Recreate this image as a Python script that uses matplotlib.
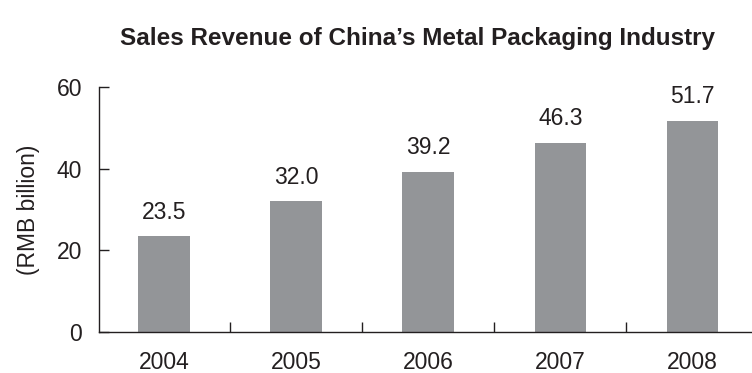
import numpy as np
import matplotlib
matplotlib.use("Agg")
from matplotlib import pyplot as plt
from matplotlib.ticker import FixedLocator, NullFormatter

plt.rcParams['font.family'] = ['Liberation Sans', 'DejaVu Sans']

years = ['2004', '2005', '2006', '2007', '2008']
revenue = [23.5, 32.0, 39.2, 46.3, 51.7]
yticks = [0, 20, 40, 60]

fig = plt.figure(figsize=(7.52, 3.73), dpi=100)
ax = fig.add_axes([99 / 752, 41 / 373, 653 / 752, 245 / 373])

x = np.arange(len(years))
ax.bar(x, revenue, width=0.39, color='#939598', zorder=2)

for xi, v in zip(x, revenue):
    ax.annotate(f'{v:.1f}', xy=(xi, v), xytext=(0, 9), textcoords='offset points',
                ha='center', va='bottom', fontsize=16.5, color='#231f20')

ax.set_xlim(-0.49, 4.45)
ax.set_ylim(0, 60)

# year labels sit on minor ticks, separators on major ticks
ax.xaxis.set_major_locator(FixedLocator(x[:-1] + 0.5))
ax.xaxis.set_major_formatter(NullFormatter())
ax.xaxis.set_minor_locator(FixedLocator(x))
ax.set_xticklabels(years, minor=True)
ax.tick_params(axis='x', which='major', direction='in', length=7, width=1, color='#231f20')
ax.tick_params(axis='x', which='minor', length=0, pad=14, labelsize=16.5, labelcolor='#231f20')

ax.set_yticks(yticks)
ax.tick_params(axis='y', direction='in', length=7, width=1, pad=12, labelsize=16.5,
               color='#231f20', labelcolor='#231f20')
ax.set_ylabel('(RMB billion)', fontsize=16.5, color='#231f20', labelpad=12)

for side in ['top', 'right']:
    ax.spines[side].set_visible(False)
for side in ['left', 'bottom']:
    ax.spines[side].set_color('#231f20')
    ax.spines[side].set_linewidth(1)

fig.text(0.555, 0.898, 'Sales Revenue of China\u2019s Metal Packaging Industry',
         ha='center', va='center', fontsize=17.5, fontweight='bold', color='#231f20')

fig.savefig('out.png', dpi=100)
